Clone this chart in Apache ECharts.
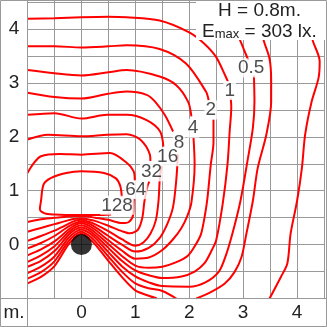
<!doctype html>
<html>
<head>
<meta charset="utf-8">
<title>Isolux</title>
<style>
  html, body { margin: 0; padding: 0; background: #fff; }
  #chart { width: 327px; height: 327px; }
</style>
</head>
<body>
<div id="chart"></div>
<script src="https://cdn.jsdelivr.net/npm/echarts@6/dist/echarts.min.js"></script>
<script>
// axis ticks (m)
var xTicks = [0, 1, 2, 3, 4];
var yTicks = [0, 1, 2, 3, 4];

// contour labels [x, y, text]
var levelLabels = [
  [3.15, 3.28, '0.5'], [2.75, 2.86, '1'], [2.40, 2.50, '2'], [2.07, 2.16, '4'],
  [1.81, 1.89, '8'], [1.60, 1.63, '16'], [1.30, 1.35, '32'], [1.01, 1.02, '64'],
  [0.66, 0.73, '128']
];

// upper branches (left edge -> label)
var c1Up = [[-1,4.19],[-0.5,4.20],[0,4.22],[0.5,4.23],[0.84,4.22],[1.45,4.16],[2.0,3.94],[2.28,3.73],[2.5,3.48],[2.68,3.11],[2.72,3.02]];
var c2Up = [[-1,3.68],[-0.5,3.68],[0,3.66],[0.5,3.68],[0.84,3.70],[1.45,3.63],[1.94,3.36],[2.31,2.84],[2.36,2.68]];
var c4Up = [[-1,3.24],[-0.5,3.18],[0,3.14],[0.5,3.20],[0.84,3.24],[1.45,3.12],[1.76,2.96],[1.98,2.65],[2.04,2.38]];
var c8Up = [[-1,2.82],[-0.5,2.74],[0,2.71],[0.5,2.80],[0.84,2.84],[1.21,2.78],[1.37,2.65],[1.55,2.40],[1.70,2.10]];
var c16Up = [[-1,2.41],[-0.5,2.44],[0,2.34],[0.48,2.41],[0.84,2.41],[1.21,2.31],[1.46,2.10],[1.52,1.82]];
var c32Up = [[-1,1.95],[-0.62,2.04],[0,2.01],[0.48,2.04],[0.84,2.05],[1.09,1.95],[1.27,1.67],[1.28,1.55]];
var c64Up = [[-1,1.33],[-0.9,1.49],[-0.75,1.64],[-0.4,1.68],[0,1.67],[0.53,1.70],[0.84,1.52],[0.97,1.36],[0.99,1.18]];
var c128 = [[0.55,0.56],[0.3,0.55],[-0.07,0.55],[-0.5,0.56],[-0.68,0.58],[-0.77,0.66],[-0.75,0.81],[-0.70,1.12],[-0.56,1.24],[-0.28,1.33],[0,1.36],[0.42,1.33],[0.64,1.23],[0.72,1.09],[0.75,0.88]];
var c05Up = [[2.72,4.54],[2.82,4.1],[2.97,3.73],[3.06,3.51],[3.10,3.42]];
var cdUp = [[3.2,4.54],[3.3,4.1],[3.39,3.76],[3.49,3.45],[3.52,3.05],[3.52,2.65],[3.43,2.04],[3.27,1.42],[3.18,0.81],[3.06,0.20],[2.97,-0.23],[2.84,-0.51],[2.66,-0.72],[2.4,-0.88],[2.13,-1.0]];
var ceUp = [[4.1,4.54],[4.2,4.1],[4.30,3.76],[4.42,3.40],[4.40,3.1],[4.27,2.65],[4.15,2.04],[4.09,1.42],[4.0,0.81],[3.88,0.2],[3.82,-0.35],[3.70,-0.60],[3.49,-1.0]];

// lower branches (left edge -> bump -> right side -> label)
var c64Low = [[-1,0.42],[-0.75,0.47],[-0.5,0.50],[-0.25,0.52],[-0.12,0.53],[0,0.53],[0.12,0.52],[0.25,0.50],[0.5,0.46],[0.75,0.40],[0.88,0.42],[0.96,0.55],[0.97,0.81],[0.98,0.86]];
var c32Low = [[-1,0.24],[-0.75,0.31],[-0.5,0.38],[-0.25,0.45],[-0.12,0.48],[0,0.49],[0.12,0.47],[0.25,0.44],[0.5,0.35],[0.75,0.25],[0.9,0.21],[1.05,0.28],[1.13,0.5],[1.17,0.81],[1.23,1.1],[1.26,1.17]];
var c16Low = [[-1,0.07],[-0.75,0.16],[-0.5,0.26],[-0.25,0.38],[-0.12,0.44],[0,0.46],[0.12,0.43],[0.25,0.38],[0.5,0.25],[0.75,0.10],[1.0,-0.02],[1.15,0.04],[1.28,0.2],[1.38,0.45],[1.43,0.81],[1.46,1.30],[1.50,1.47]];
var c8Low = [[-1,-0.07],[-0.75,0.03],[-0.5,0.16],[-0.25,0.33],[-0.12,0.40],[0,0.43],[0.12,0.40],[0.25,0.33],[0.5,0.16],[0.75,0.0],[1.0,-0.13],[1.25,-0.06],[1.45,0.12],[1.6,0.4],[1.7,0.7],[1.76,1.2],[1.79,1.68]];
var c4Low = [[-1,-0.20],[-0.75,-0.09],[-0.5,0.06],[-0.25,0.27],[-0.12,0.36],[0,0.40],[0.12,0.36],[0.25,0.28],[0.5,0.08],[0.75,-0.11],[1.0,-0.26],[1.25,-0.24],[1.5,-0.10],[1.7,0.10],[1.85,0.3],[1.96,0.52],[2.04,0.78],[2.10,1.49],[2.08,1.98]];
var c2Low = [[-1,-0.32],[-0.75,-0.20],[-0.5,-0.03],[-0.25,0.22],[-0.12,0.32],[0,0.36],[0.12,0.32],[0.25,0.23],[0.5,0.01],[0.75,-0.21],[1.0,-0.39],[1.25,-0.43],[1.5,-0.41],[1.75,-0.33],[1.98,-0.2],[2.12,0.0],[2.22,0.2],[2.30,0.6],[2.34,0.88],[2.40,1.49],[2.45,1.9],[2.45,2.32]];
var c1Low = [[-1,-0.41],[-0.75,-0.30],[-0.5,-0.12],[-0.25,0.17],[-0.12,0.28],[0,0.32],[0.12,0.28],[0.25,0.18],[0.5,-0.06],[0.75,-0.30],[1.0,-0.48],[1.25,-0.57],[1.5,-0.62],[1.86,-0.59],[2.1,-0.5],[2.28,-0.35],[2.42,-0.1],[2.5,0.08],[2.62,0.75],[2.71,1.49],[2.75,2.1],[2.78,2.56],[2.77,2.72]];
var c05Low = [[-1,-0.53],[-0.75,-0.41],[-0.5,-0.22],[-0.25,0.11],[-0.12,0.23],[0,0.28],[0.12,0.23],[0.25,0.13],[0.5,-0.14],[0.75,-0.40],[1.0,-0.59],[1.25,-0.70],[1.5,-0.77],[2.0,-0.78],[2.3,-0.70],[2.55,-0.5],[2.68,-0.2],[2.80,0.2],[2.95,0.81],[3.08,1.55],[3.18,2.16],[3.21,2.65],[3.20,3.14]];
var cdLow = [[-1,-0.63],[-0.75,-0.51],[-0.5,-0.31],[-0.25,0.05],[-0.12,0.18],[0,0.24],[0.12,0.18],[0.25,0.07],[0.5,-0.22],[0.75,-0.50],[1.0,-0.72],[1.25,-0.81],[1.5,-0.86],[1.76,-1.0]];
var ceLow = [[-1,-0.72],[-0.75,-0.60],[-0.5,-0.40],[-0.25,-0.01],[-0.12,0.13],[0,0.20],[0.12,0.13],[0.25,0.01],[0.5,-0.30],[0.75,-0.60],[1.0,-0.85],[1.25,-0.95],[1.4,-1.0]];

var luminaire = [[0, 0]];

var curves = [c1Up, c2Up, c4Up, c8Up, c16Up, c32Up, c64Up, c128, c05Up, cdUp, ceUp,
              c64Low, c32Low, c16Low, c8Low, c4Low, c2Low, c1Low, c05Low, cdLow, ceLow];

var chart = echarts.init(document.getElementById('chart'));
var font = '"Liberation Sans", Arial, sans-serif';
var gridColor = '#999';

var series = curves.map(function (d) {
  return {
    type: 'line', data: d, smooth: 0.3, showSymbol: false, silent: true, z: 2,
    lineStyle: { color: '#ff0000', width: 2 }
  };
});
series.push({
  type: 'scatter', data: levelLabels, symbolSize: 1, silent: true, z: 5,
  itemStyle: { color: 'rgba(0,0,0,0)' },
  label: {
    show: true, position: 'inside', fontFamily: font, fontSize: 19, color: '#222',
    backgroundColor: '#fff', padding: [0, 1],
    formatter: function (p) { return p.data[2]; }
  }
});
series.push({
  type: 'scatter', data: luminaire, symbolSize: 21, silent: true, z: 6,
  itemStyle: { color: '#000' }
});

chart.setOption({
  animation: false,
  grid: { left: 27.5, right: 0, top: 0, bottom: 28.5 },
  xAxis: {
    type: 'value', min: -1, max: 4.5, interval: 0.5,
    axisLine: { show: false }, axisTick: { show: false },
    splitLine: { show: true, lineStyle: { color: gridColor, width: 1 } },
    axisLabel: {
      fontFamily: font, fontSize: 19, color: '#222', margin: 5,
      formatter: function (v) { return xTicks.indexOf(v) >= 0 ? String(v) : ''; }
    }
  },
  yAxis: {
    type: 'value', min: -1, max: 4.54, interval: 0.5,
    axisLine: { show: false }, axisTick: { show: false },
    splitLine: { show: true, lineStyle: { color: gridColor, width: 1 } },
    axisLabel: {
      fontFamily: font, fontSize: 19, color: '#222', margin: 13.5, align: 'center',
      formatter: function (v) { return yTicks.indexOf(v) >= 0 ? String(v) : ''; }
    }
  },
  graphic: [
    { type: 'rect', shape: { x: 196, y: 0, width: 131, height: 40 }, style: { fill: '#fff' }, z: 10 },
    { type: 'text', x: 259.5, y: 11, z: 11,
      style: { text: 'H = 0.8m.', fontFamily: font, fontSize: 19, fill: '#222', align: 'center', verticalAlign: 'middle' } },
    { type: 'text', x: 202, y: 32, z: 11,
      style: {
        text: '{b|E}{s|max}{b| = 303 lx.}', fill: '#222', align: 'left', verticalAlign: 'middle',
        rich: {
          b: { fontFamily: font, fontSize: 19, fill: '#222' },
          s: { fontFamily: font, fontSize: 13, fill: '#222', verticalAlign: 'bottom', padding: [0, 0, 1, 0] }
        }
      } },
    { type: 'text', x: 14, y: 313, z: 11,
      style: { text: 'm.', fontFamily: font, fontSize: 19, fill: '#222', align: 'center', verticalAlign: 'middle' } },
    { type: 'line', shape: { x1: 27.5, y1: 0, x2: 27.5, y2: 327 }, style: { stroke: gridColor, lineWidth: 1 }, z: 12 },
    { type: 'line', shape: { x1: 0, y1: 298.5, x2: 327, y2: 298.5 }, style: { stroke: gridColor, lineWidth: 1 }, z: 12 },
    { type: 'rect', shape: { x: 0.5, y: 0.5, width: 326, height: 326 }, style: { fill: 'none', stroke: gridColor, lineWidth: 1 }, z: 12 }
  ],
  series: series
});
</script>
</body>
</html>
